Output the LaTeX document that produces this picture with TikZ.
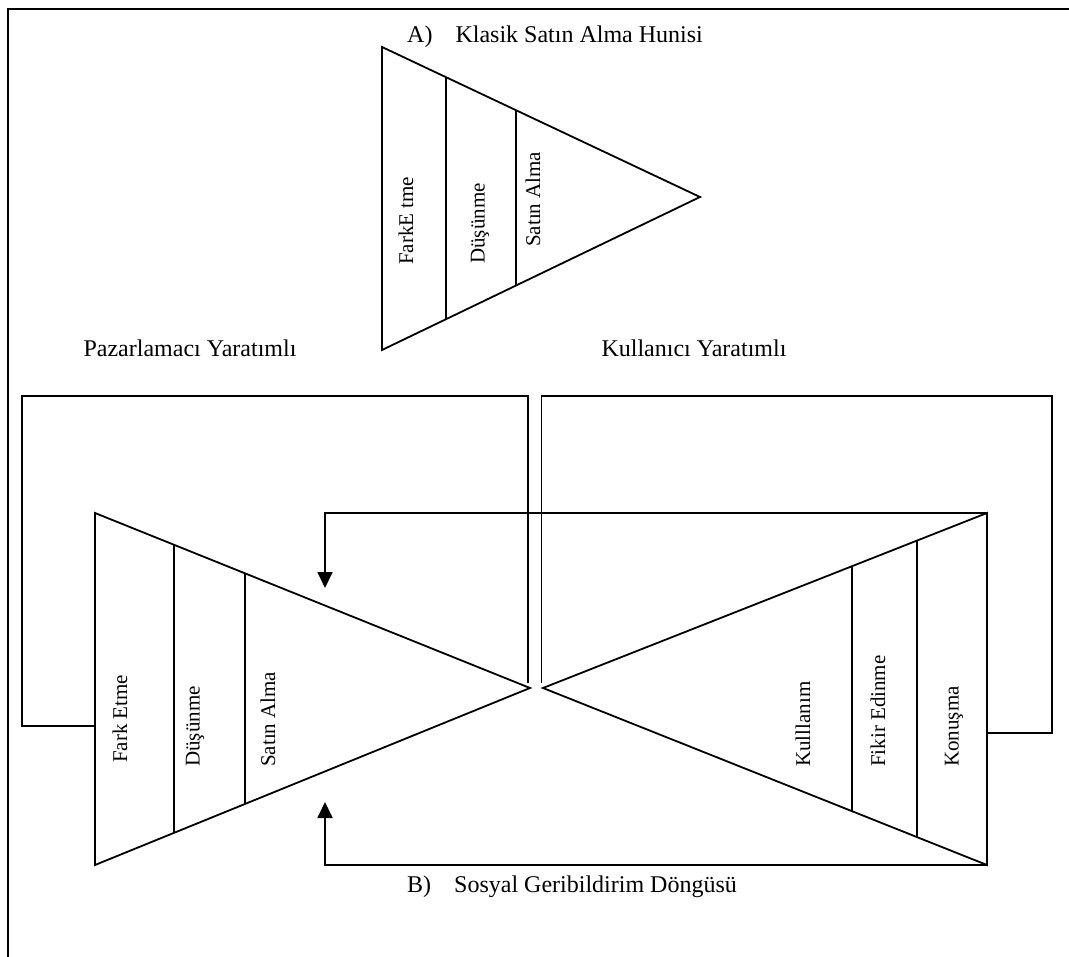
\documentclass[tikz,border=0pt]{standalone}
\usepackage{fontspec}
\setmainfont{Liberation Serif}
\usetikzlibrary{arrows.meta,calc}
\begin{document}
\begin{tikzpicture}[x=1pt,y=-1pt,
  edge/.style={line width=1.8pt, line join=miter},
  frameline/.style={line width=2.2pt},
  heading/.style={font=\fontsize{24}{28}\selectfont, inner sep=0pt},
  stage/.style={font=\fontsize{21}{25}\selectfont, rotate=90, anchor=west, inner sep=0pt},
  feedback/.style={edge, -{Triangle[length=16pt,width=15pt]}}
]
\useasboundingbox (0,0) rectangle (1069,957);

% page frame (top and left sides)
\draw[frameline] (8,957) -- (8,9) -- (1069,9);

% ---- A) classic purchase funnel ----
\node[heading, anchor=base west] (titleA) at (407,43) {A)\hspace{23pt}Klasik Satın Alma Hunisi};
\coordinate (fA) at (382,47);
\coordinate (fB) at (382,350);
\coordinate (fC) at (700,197);
\draw[edge] (fA) -- (fC) -- (fB) -- cycle;
\draw[edge] ($(fA)!{64/318}!(fC)$) -- ($(fB)!{64/318}!(fC)$);
\draw[edge] ($(fA)!{134/318}!(fC)$) -- ($(fB)!{134/318}!(fC)$);
\node[stage] (fa1) at (406,265) {FarkE tme};
\node[stage] (fa2) at (480,264) {Düşünme};
\node[stage] (fa3) at (533,247) {Satın Alma};

% ---- side headings ----
\node[heading, anchor=base] (mkt) at (190,357) {Pazarlamacı Yaratımlı};
\node[heading, anchor=base] (usr) at (694,357) {Kullanıcı Yaratımlı};

% ---- B) social feedback loop ----
% left funnel (marketer created)
\coordinate (lA) at (95,513);
\coordinate (lB) at (95,865);
\coordinate (lC) at (530,688);
\draw[edge] (lA) -- (lC) -- (lB) -- cycle;
\draw[edge] ($(lA)!{79/435}!(lC)$) -- ($(lB)!{79/435}!(lC)$);
\draw[edge] ($(lA)!{150/435}!(lC)$) -- ($(lB)!{150/435}!(lC)$);
\node[stage] (lb1) at (120,763) {Fark Etme};
\node[stage] (lb2) at (195,767) {Düşünme};
\node[stage] (lb3) at (268,767) {Satın Alma};

% right funnel (user created)
\coordinate (rA) at (987,513);
\coordinate (rB) at (987,865);
\coordinate (rC) at (543,688);
\draw[edge] (rA) -- (rC) -- (rB) -- cycle;
\draw[edge] ($(rA)!{135/444}!(rC)$) -- ($(rB)!{135/444}!(rC)$);
\draw[edge] ($(rA)!{70/444}!(rC)$) -- ($(rB)!{70/444}!(rC)$);
\node[stage] (rb1) at (803,767) {Kulllanım};
\node[stage] (rb2) at (878,767) {Fikir Edinme};
\node[stage] (rb3) at (954,767) {Konuşma};

% bracket frames around each funnel
\coordinate (lJoin) at (95,726);
\coordinate (rJoin) at (987,733);
\draw[edge] (528,683) -- (528,396) -- (22,396) |- (lJoin);
\draw[edge] (541.5,683) -- (541.5,396) -- (1052,396) |- (rJoin);

% feedback arrows from the user funnel back to the marketer funnel
\coordinate (tipTop) at (325,588);
\coordinate (tipBot) at (325,802);
\draw[feedback] (rA) -| (tipTop);
\draw[feedback] (rB) -| (tipBot);

\node[heading, anchor=base west] (titleB) at (407,892) {B)\hspace{23pt}Sosyal Geribildirim Döngüsü};
\end{tikzpicture}
\end{document}
